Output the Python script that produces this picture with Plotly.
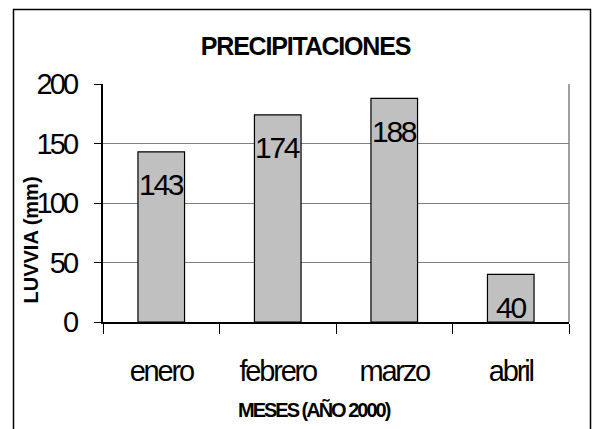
import plotly.graph_objects as go

months = ["enero", "febrero", "marzo", "abril"]
rain_mm = [143, 174, 188, 40]
y_ticks = [0, 50, 100, 150, 200]

FONT = "Liberation Sans, Arial, sans-serif"

W, H = 592, 429
L, R, T, B = 103, 23, 84, 107
pw, ph = W - L - R, H - T - B


def px(x):
    return (x - L) / pw


def py(y):
    return (H - B - y) / ph


def tight(s, sp):
    return f'<span style="letter-spacing:{sp}px">{s}</span>'


fig = go.Figure()
fig.add_trace(go.Bar(
    x=months, y=rain_mm,
    marker=dict(color="#C0C0C0", line=dict(color="black", width=1.2)),
    width=0.4,
    hoverinfo="skip",
))

annotations = []
for m, v in zip(months, rain_mm):
    annotations.append(dict(
        x=m, y=v, xref="x", yref="y", text=tight(str(v), -2.3), showarrow=False,
        yanchor="middle", xanchor="center", yshift=-33,
        font=dict(family=FONT, size=30, color="black"),
    ))

annotations.append(dict(
    x=px(30), y=py(240.5), xref="paper", yref="paper",
    text="<b>LUVVIA (mm)</b>", textangle=-90, showarrow=False,
    xanchor="center", yanchor="middle",
    font=dict(family=FONT, size=20, color="black"),
))
annotations.append(dict(
    x=px(314.4), y=py(410), xref="paper", yref="paper",
    text="<b>" + tight("MESES (AÑO 2000)", -2) + "</b>", showarrow=False,
    xanchor="center", yanchor="middle",
    font=dict(family=FONT, size=20, color="black"),
))

shapes = [
    dict(type="rect", xref="paper", yref="paper",
         x0=px(13.5), x1=px(590.5), y0=py(440), y1=py(9.5),
         line=dict(color="black", width=1.5), layer="below"),
    dict(type="line", xref="paper", yref="paper",
         x0=1, x1=1, y0=0, y1=1, line=dict(color="#808080", width=1.5)),
]

fig.update_layout(
    width=W, height=H,
    margin=dict(l=L, r=R, t=T, b=B, pad=0),
    paper_bgcolor="white", plot_bgcolor="white",
    showlegend=False,
    title=dict(text="<b>" + tight("PRECIPITACIONES", -1.2) + "</b>", xref="paper", x=px(305.5),
               xanchor="center", yref="container", y=1 - 46 / H, yanchor="middle",
               font=dict(family=FONT, size=25, color="black")),
    xaxis=dict(
        type="category", tickson="boundaries", ticks="outside", ticklen=10,
        tickcolor="black", tickwidth=1,
        tickvals=months, ticktext=[tight(m, -2.2) for m in months],
        showline=True, linecolor="black", linewidth=1.5,
        showgrid=False, ticklabelstandoff=22,
        tickfont=dict(family=FONT, size=29, color="black"),
        range=[-0.5, 3.5],
    ),
    yaxis=dict(
        range=[0, 200], tickvals=y_ticks, ticktext=[tight(str(t), -2.8) for t in y_ticks],
        ticks="outside", ticklen=7,
        tickcolor="black", tickwidth=1,
        showline=True, linecolor="black", linewidth=1.5,
        showgrid=True, gridcolor="#808080", gridwidth=1,
        zeroline=False, ticklabelstandoff=12,
        tickfont=dict(family=FONT, size=29, color="black"),
    ),
    annotations=annotations,
    shapes=shapes,
)

fig.write_html("out.html", config={"displayModeBar": False},
               post_script="document.body.style.margin='0';")
